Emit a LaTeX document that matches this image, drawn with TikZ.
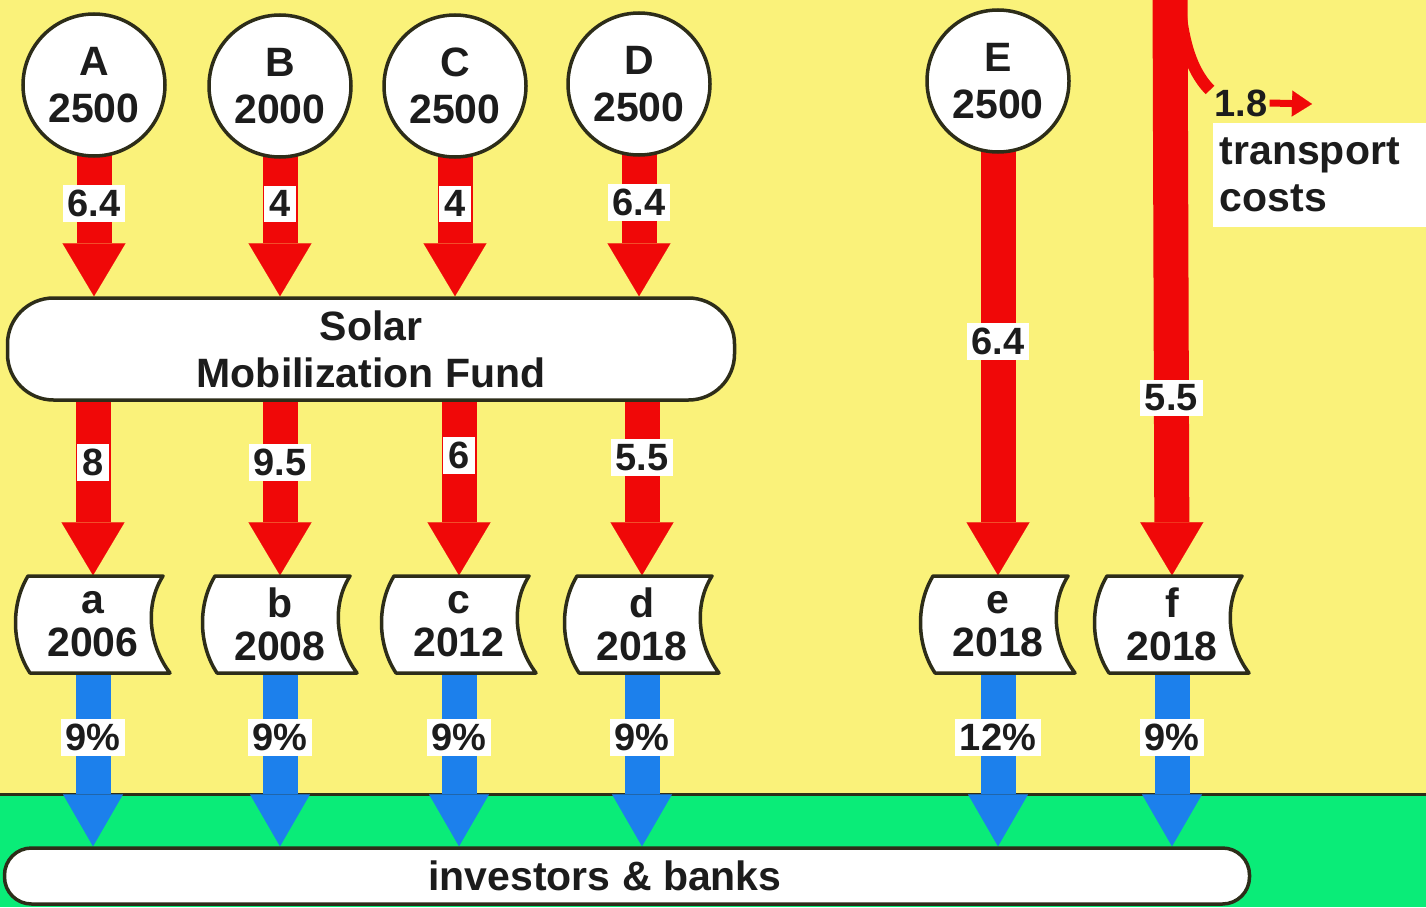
\documentclass[tikz,border=0pt]{standalone}
\usepackage{fontspec}
\setmainfont{Liberation Sans}
\usetikzlibrary{arrows.meta,calc}
\pgfdeclarelayer{back}
\pgfdeclarelayer{bg}
\pgfsetlayers{back,bg,main}
\definecolor{bgyellow}{RGB}{250,242,122}
\definecolor{bandgreen}{RGB}{10,236,120}
\definecolor{flowred}{RGB}{240,8,8}
\definecolor{flowblue}{RGB}{28,128,236}
\definecolor{edgecol}{RGB}{45,45,25}
\definecolor{txt}{RGB}{28,28,28}
\newcommand\bigfnt{\fontsize{41}{47}\selectfont\bfseries}
\newcommand\docfnt{\fontsize{41}{43}\selectfont\bfseries}
\newcommand\labfnt{\fontsize{38}{40}\selectfont\bfseries}
\newcommand\docpath[1]{%
  \path[docshape] ($(#1)+(-65,-48)$) -- ($(#1)+(70,-48)$)
    .. controls ($(#1)+(52,-20)$) and ($(#1)+(55,20)$) .. ($(#1)+(77,49)$)
    -- ($(#1)+(-63,49)$)
    .. controls ($(#1)+(-82,20)$) and ($(#1)+(-82,-20)$) .. cycle;}
\tikzset{
  src/.style={circle, draw=edgecol, line width=3.5pt, fill=white, minimum size=142pt,
    inner sep=0pt, align=center, font=\bigfnt, text=txt},
  fundbox/.style={rectangle, rounded corners=46pt, draw=edgecol, line width=3.5pt, fill=white,
    minimum width=727pt, minimum height=102pt, align=center, font=\bigfnt, text=txt},
  invbox/.style={rectangle, rounded corners=27pt, draw=edgecol, line width=3.5pt, fill=white,
    minimum width=1245pt, minimum height=56pt, font=\bigfnt, text=txt},
  doc/.style={rectangle, minimum width=140pt, minimum height=97pt, inner sep=0pt,
    align=center, font=\docfnt, text=txt},
  docshape/.style={draw=edgecol, line width=3.5pt, fill=white, line join=round},
  redflow/.style={draw=flowred, line width=35pt,
    -{Triangle[width=63pt 0 0, length=53pt 0 0, line width=0.1pt 0 0]}},
  blueflow/.style={draw=flowblue, line width=35pt,
    -{Triangle[width=60pt 0 0, length=52pt 0 0, line width=0.1pt 0 0]}},
  flowlabel/.style={fill=white, inner xsep=5pt, inner ysep=5pt, font=\labfnt, text=txt},
}
\begin{document}
\begin{tikzpicture}[x=1pt, y=-1pt]
\useasboundingbox (0,0) rectangle (1426,907);
\begin{pgfonlayer}{back}
  \fill[bgyellow] (0,0) rectangle (1426,907);
  \fill[bandgreen] (0,794) rectangle (1426,907);
  \draw[edgecol, line width=3pt] (0,794) -- (1426,794);
\end{pgfonlayer}
% sources
\node[src] (A) at (94,85) {A\\2500};
\node[src] (B) at (280,86) {B\\2000};
\node[src] (C) at (455,86) {C\\2500};
\node[src] (D) at (639,84) {D\\2500};
\node[src] (E) at (998,81) {E\\2500};
% fund
\node[fundbox] (fund) at (371,349) {Solar\\Mobilization Fund};
% documents
\node[doc] (a) at (93,624) {a\\2006};
\node[doc] (b) at (280,624) {b\\2008};
\node[doc] (c) at (459,624) {c\\2012};
\node[doc] (d) at (642,624) {d\\2018};
\node[doc] (e) at (998,624) {e\\2018};
\node[doc] (f) at (1172,624) {f\\2018};
% investors
\node[invbox] (inv) at (627,876) {\hspace*{-44pt}investors \& banks};
% transport
\coordinate (ftop) at (1170,-10);
\coordinate (fbranch) at (1180,8);
\coordinate (bend) at (1210,90);
\node[font=\labfnt, text=txt, inner sep=2pt] (n18) at (1241,103) {1.8};
\coordinate (tcend) at (1312,104);
\node[anchor=north west, fill=white, minimum width=213pt, minimum height=104pt,
  text width=200pt, align=left, inner xsep=4pt, font=\bigfnt, text=txt] (tc) at (1213,123) {transport\\costs};
\begin{pgfonlayer}{bg}
  % sources to fund
  \draw[redflow] (A.center) -- (A |- fund.north) node[flowlabel, pos=0.56] {6.4};
  \draw[redflow] (B.center) -- (B |- fund.north) node[flowlabel, pos=0.56] {4};
  \draw[redflow] (C.center) -- (C |- fund.north) node[flowlabel, pos=0.56] {4};
  \draw[redflow] (D.center) -- (D |- fund.north) node[flowlabel, pos=0.56] {6.4};
  % fund to documents
  \draw[redflow] (a |- fund.center) -- (a |- a.north) node[flowlabel, pos=0.5] {8};
  \draw[redflow] (b |- fund.center) -- (b.north) node[flowlabel, pos=0.5] {9.5};
  \draw[redflow] (c |- fund.center) -- (c.north) node[flowlabel, pos=0.47] {6};
  \draw[redflow] (d |- fund.center) -- (d.north) node[flowlabel, pos=0.48] {5.5};
  % direct flows
  \draw[redflow] (E.center) -- (e.north) node[flowlabel, pos=0.527] {6.4};
  \draw[redflow] (ftop) -- (f.north) node[flowlabel, pos=0.697] {5.5};
  \draw[flowred, line width=12pt] (fbranch) .. controls (1184,50) and (1195,75) .. (bend);
  \draw[flowred, line width=7pt, -{Triangle[width=26pt 0 0, length=20pt 0 0, line width=0.1pt 0 0]}] (n18.east) -- (tcend);
  % documents to investors
  \draw[blueflow] (a.center) -- (a |- inv.north) node[flowlabel, pos=0.51] {9\%};
  \draw[blueflow] (b.center) -- (b |- inv.north) node[flowlabel, pos=0.51] {9\%};
  \draw[blueflow] (c.center) -- (c |- inv.north) node[flowlabel, pos=0.51] {9\%};
  \draw[blueflow] (d.center) -- (d |- inv.north) node[flowlabel, pos=0.51] {9\%};
  \draw[blueflow] (e.center) -- (e |- inv.north) node[flowlabel, pos=0.51] {12\%};
  \draw[blueflow] (f.center) -- (f |- inv.north) node[flowlabel, pos=0.51] {9\%};
  % document shapes
  \docpath{a}\docpath{b}\docpath{c}\docpath{d}\docpath{e}\docpath{f}
\end{pgfonlayer}
\end{tikzpicture}
\end{document}
